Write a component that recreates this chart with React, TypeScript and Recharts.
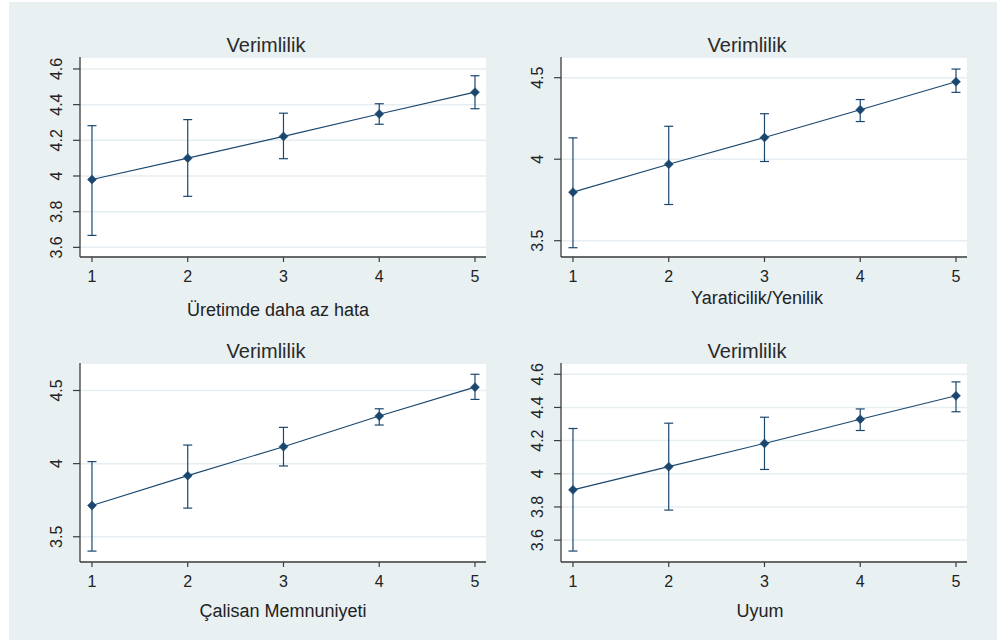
import { LineChart, Line, XAxis, YAxis, CartesianGrid, ErrorBar } from "recharts";

// x levels (1..5) shared by all four panels
const levels = [1, 2, 3, 4, 5];

// Üretimde daha az hata
const hataMean = [3.98, 4.1, 4.222, 4.348, 4.47];
const hataLow = [3.667, 3.886, 4.097, 4.29, 4.377];
const hataHigh = [4.282, 4.316, 4.352, 4.405, 4.562];

// Yaraticilik/Yenilik
const yaraticilikMean = [3.798, 3.969, 4.133, 4.303, 4.475];
const yaraticilikLow = [3.457, 3.722, 3.986, 4.231, 4.41];
const yaraticilikHigh = [4.131, 4.202, 4.279, 4.366, 4.553];

// Çalisan Memnuniyeti
const calisanMean = [3.714, 3.918, 4.116, 4.325, 4.523];
const calisanLow = [3.402, 3.696, 3.984, 4.264, 4.439];
const calisanHigh = [4.014, 4.127, 4.248, 4.375, 4.611];

// Uyum
const uyumMean = [3.903, 4.043, 4.183, 4.329, 4.47];
const uyumLow = [3.534, 3.781, 4.026, 4.261, 4.374];
const uyumHigh = [4.273, 4.305, 4.341, 4.391, 4.554];

const fineTicks = [3.6, 3.8, 4, 4.2, 4.4, 4.6];
const halfTicks = [3.5, 4, 4.5];

const TITLE = "Verimlilik";
const NAVY = "#1a476f";
const AXIS = "#3c3c3c";
const FONT = '"Liberation Sans", Arial, sans-serif';

const buildRows = (mean: number[], low: number[], high: number[]) =>
  levels.map((x, i) => ({
    x,
    mean: mean[i],
    err: [mean[i] - low[i], high[i] - mean[i]],
  }));

// Stata style diamond marker
const Diamond = (props: any) => {
  const { cx, cy } = props;
  if (cx == null || cy == null) return null;
  const r = 4.5;
  return (
    <polygon
      key={`d-${cx}`}
      points={`${cx},${cy - r} ${cx + r},${cy} ${cx},${cy + r} ${cx - r},${cy}`}
      fill={NAVY}
      stroke={NAVY}
      strokeWidth={0.5}
    />
  );
};

// rotated y tick labels, reading bottom to top
const RotatedTick = (props: any) => {
  const { x, y, payload } = props;
  return (
    <text
      x={x}
      y={y}
      transform={`rotate(-90, ${x}, ${y})`}
      textAnchor="middle"
      fill="#222"
      fontSize={16}
      fontFamily={FONT}
    >
      {String(payload.value)}
    </text>
  );
};

interface PanelProps {
  left: number;
  top: number;
  height: number;
  plotTop: number;
  plotBottom: number;
  domain: [number, number];
  ticks: number[];
  mean: number[];
  low: number[];
  high: number[];
  xLabel: string;
  titleX: number;
  titleY: number;
  labelX: number;
  labelY: number;
}

function Panel(p: PanelProps) {
  const rows = buildRows(p.mean, p.low, p.high);
  const yAxisWidth = 40;
  const xAxisHeight = 40;
  return (
    <>
      <div style={{ position: "absolute", left: p.left, top: p.top }}>
        <LineChart
          width={488}
          height={p.height}
          data={rows}
          margin={{
            top: p.plotTop - p.top,
            right: 11,
            left: 71 - yAxisWidth,
            bottom: p.top + p.height - p.plotBottom - xAxisHeight,
          }}
        >
          <CartesianGrid
            horizontal
            vertical={false}
            fill="#ffffff"
            stroke="#e6eef1"
            strokeWidth={1.5}
          />
          <XAxis
            type="number"
            dataKey="x"
            domain={[0.875, 5.115]}
            ticks={levels}
            allowDataOverflow
            height={xAxisHeight}
            tickSize={5}
            tickMargin={9}
            axisLine={{ stroke: AXIS, strokeWidth: 1.3 }}
            tickLine={{ stroke: AXIS, strokeWidth: 1.2 }}
            tick={{ fill: "#222", fontSize: 16, fontFamily: FONT }}
          />
          <YAxis
            type="number"
            domain={p.domain}
            ticks={p.ticks}
            allowDataOverflow
            width={yAxisWidth}
            tickSize={7}
            tickMargin={11}
            axisLine={{ stroke: AXIS, strokeWidth: 1.3 }}
            tickLine={{ stroke: AXIS, strokeWidth: 1.2 }}
            tick={<RotatedTick />}
          />
          <Line
            type="linear"
            dataKey="mean"
            stroke={NAVY}
            strokeWidth={1.1}
            dot={(props: any) => <Diamond {...props} />}
            activeDot={false}
            isAnimationActive={false}
          >
            <ErrorBar
              dataKey="err"
              direction="y"
              width={4.5}
              stroke={NAVY}
              strokeWidth={1.2}
              isAnimationActive={false}
            />
          </Line>
        </LineChart>
      </div>
      <div
        style={{
          position: "absolute",
          left: p.titleX,
          top: p.titleY,
          transform: "translate(-50%, -50%)",
          fontFamily: FONT,
          fontSize: 20,
          lineHeight: 1,
          color: "#2a2a2a",
          whiteSpace: "nowrap",
        }}
      >
        {TITLE}
      </div>
      <div
        style={{
          position: "absolute",
          left: p.labelX,
          top: p.labelY,
          transform: "translate(-50%, -50%)",
          fontFamily: FONT,
          fontSize: 18,
          lineHeight: 1,
          color: "#222",
          whiteSpace: "nowrap",
        }}
      >
        {p.xLabel}
      </div>
    </>
  );
}

export default function App() {
  return (
    <div
      style={{
        position: "fixed",
        left: 0,
        top: 0,
        width: 997,
        height: 640,
        background: "#ffffff",
        overflow: "hidden",
      }}
    >
      <div
        style={{
          position: "absolute",
          left: 9,
          top: 2,
          width: 988,
          height: 638,
          background: "#e8f0f2",
        }}
      />
      <Panel
        left={9}
        top={2}
        height={318}
        plotTop={57}
        plotBottom={257}
        domain={[3.546, 4.667]}
        ticks={fineTicks}
        mean={hataMean}
        low={hataLow}
        high={hataHigh}
        xLabel="Üretimde daha az hata"
        titleX={266}
        titleY={45}
        labelX={278}
        labelY={310}
      />
      <Panel
        left={490}
        top={2}
        height={318}
        plotTop={57}
        plotBottom={257}
        domain={[3.4, 4.627]}
        ticks={halfTicks}
        mean={yaraticilikMean}
        low={yaraticilikLow}
        high={yaraticilikHigh}
        xLabel="Yaraticilik/Yenilik"
        titleX={747}
        titleY={45}
        labelX={757}
        labelY={298}
      />
      <Panel
        left={9}
        top={320}
        height={318}
        plotTop={363}
        plotBottom={562}
        domain={[3.3275, 4.688]}
        ticks={halfTicks}
        mean={calisanMean}
        low={calisanLow}
        high={calisanHigh}
        xLabel="Çalisan Memnuniyeti"
        titleX={266}
        titleY={351}
        labelX={283}
        labelY={611}
      />
      <Panel
        left={490}
        top={320}
        height={318}
        plotTop={363}
        plotBottom={562}
        domain={[3.468, 4.668]}
        ticks={fineTicks}
        mean={uyumMean}
        low={uyumLow}
        high={uyumHigh}
        xLabel="Uyum"
        titleX={747}
        titleY={351}
        labelX={760}
        labelY={611}
      />
    </div>
  );
}
